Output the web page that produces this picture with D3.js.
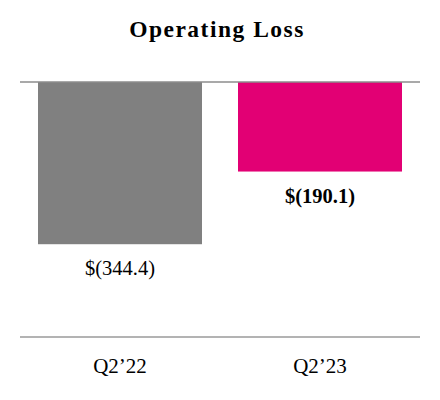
<!DOCTYPE html>
<html><head><meta charset="utf-8">
<script src="https://cdn.jsdelivr.net/npm/d3@7"></script>
<style>body{margin:0;background:#fff}</style>
</head><body>
<script>
const categories = ["Q2\u201922", "Q2\u201923"];
const values = [-344.4, -190.1];
const valueLabels = ["$(344.4)", "$(190.1)"];
const barColors = ["#808080", "#E20074"];
const labelBold = [false, true];

const W = 440, H = 400;
const svg = d3.select("body").append("svg").attr("width", W).attr("height", H);
const font = "'Liberation Serif','Times New Roman',serif";

const x = d3.scaleBand().domain(categories).range([20, 420]).paddingInner(0.18).paddingOuter(0.09);
const y = d3.scaleLinear().domain([0, -400]).range([82, 82 + 188.4]);

svg.append("text").attr("x", 217).attr("y", 37).attr("text-anchor", "middle")
  .attr("font-family", font).attr("font-weight", "bold").attr("font-size", 23.5)
  .attr("letter-spacing", 1.5)
  .text("Operating Loss");

svg.selectAll("rect.bar").data(values).join("rect").attr("class", "bar")
  .attr("x", (d, i) => x(categories[i])).attr("width", x.bandwidth())
  .attr("y", y(0)).attr("height", d => y(d) - y(0))
  .attr("fill", (d, i) => barColors[i]);

svg.append("line").attr("x1", 20).attr("x2", 420).attr("y1", y(0)).attr("y2", y(0))
  .attr("stroke", "#8c8c8c").attr("stroke-width", 1.5);

svg.selectAll("text.val").data(values).join("text").attr("class", "val")
  .attr("x", (d, i) => x(categories[i]) + x.bandwidth() / 2)
  .attr("y", d => y(d) + 31)
  .attr("text-anchor", "middle").attr("font-family", font)
  .attr("font-size", (d, i) => labelBold[i] ? 20.5 : 20.5)
  .attr("font-weight", (d, i) => labelBold[i] ? "bold" : "normal")
  .text((d, i) => valueLabels[i]);

svg.append("line").attr("x1", 20).attr("x2", 420).attr("y1", 337).attr("y2", 337)
  .attr("stroke", "#9a9a9a").attr("stroke-width", 1.5);

const xAxis = d3.axisBottom(x).tickSize(0).tickPadding(0);
const ax = svg.append("g").attr("transform", "translate(0,373)").call(xAxis);
ax.select(".domain").remove();
ax.selectAll("text").attr("font-family", font).attr("font-size", 21).attr("fill", "#000").attr("dy", 0);
</script>
</body></html>
